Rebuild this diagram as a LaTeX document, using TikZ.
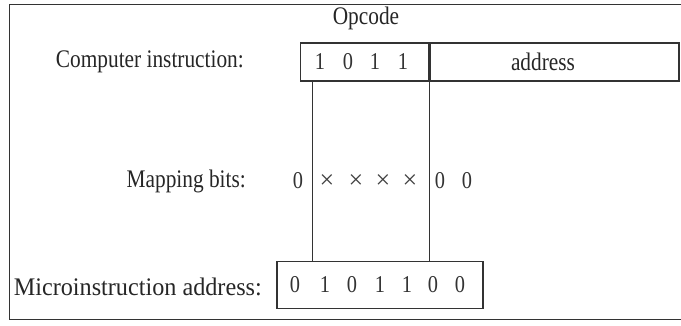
\documentclass[tikz,border=0pt]{standalone}
\usepackage{fontspec}
\setmainfont{Liberation Serif}
\newcommand{\tallt}[1]{\scalebox{0.97}[1.15]{#1}}
\begin{document}
\begin{tikzpicture}[x=1pt,y=-1pt,
  lbl/.style={font=\fontsize{22}{24}\selectfont, inner sep=0pt, text=black!85},
  bit/.style={font=\fontsize{21}{24}\selectfont, inner sep=0pt, text=black!80},
  crs/.style={font=\fontsize{26}{26}\selectfont, inner sep=0pt, text=black!75},
  boxline/.style={draw=black!80, line width=1.4pt},
  thin/.style={draw=black!80, line width=0.8pt}]
\useasboundingbox (0,0) rectangle (681,325);
% frame
\draw[thin, line width=1pt] (681,4) -- (9,4) -- (9,319) -- (681,319);
% opcode
\node[lbl] (opc) at (366,18) {\tallt{Opcode}};
\node[lbl, anchor=east] (ci) at (244,62) {\tallt{Computer instruction:}};
\node[boxline, minimum width=128, minimum height=38, inner sep=0pt] (opbox) at (364.5,62) {};
\node[boxline, minimum width=249, minimum height=38, inner sep=0pt, anchor=west] (adbox) at (opbox.east) {};
\node[lbl] (addr) at (543,62) {\tallt{address}};
\node[bit] (b1) at (320,62) {\tallt{1}};
\node[bit] (b2) at (348,62) {\tallt{0}};
\node[bit] (b3) at (375,62) {\tallt{1}};
\node[bit] (b4) at (403,62) {\tallt{1}};
% mapping bits
\node[lbl, anchor=east] (mb) at (246,181) {\tallt{Mapping bits:}};
\node[bit] (m0) at (298,181) {\tallt{0}};
\node[crs] (mx1) at (327,182) {×};
\node[crs] (mx2) at (356,182) {×};
\node[crs] (mx3) at (383,182) {×};
\node[crs] (mx4) at (410,182) {×};
\node[bit] (m5) at (440,181) {\tallt{0}};
\node[bit] (m6) at (467,181) {\tallt{0}};
% micro address
\node[lbl, anchor=east] (ma) at (262,287) {\scalebox{1.1}[1.15]{Microinstruction address:}};
\node[boxline, minimum width=206, minimum height=47, inner sep=0pt] (mbox) at (380,285) {};
\foreach \x/\d [count=\i] in {295/0,325/1,352/0,380/1,407/1,433/0,460/0}
  \node[bit] (u\i) at (\x,285) {\tallt{\d}};
% connecting lines
\coordinate (l1t) at (312,81);
\coordinate (l1b) at (312,261.5);
\coordinate (l2t) at (opbox.south east);
\coordinate (l2b) at (opbox.south east |- mbox.north);
\draw[thin] (l1t) -- (l1b);
\draw[thin] (l2t) -- (l2b);
\end{tikzpicture}
\end{document}
